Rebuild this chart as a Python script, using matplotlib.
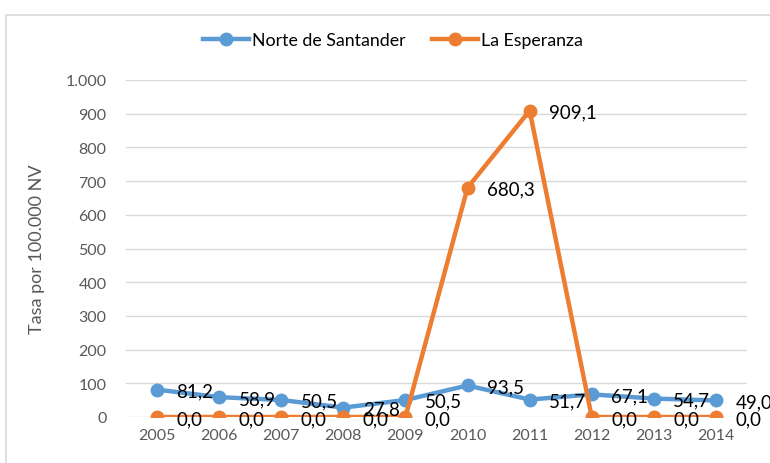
import matplotlib.pyplot as plt
from matplotlib.patches import Rectangle

plt.rcParams['font.family'] = ['Lato', 'DejaVu Sans']

years = ['2005', '2006', '2007', '2008', '2009', '2010', '2011', '2012', '2013', '2014']
norte = [81.2, 58.9, 50.5, 27.8, 50.5, 93.5, 51.7, 67.1, 54.7, 49.0]
esperanza = [0.0, 0.0, 0.0, 0.0, 0.0, 680.3, 909.1, 0.0, 0.0, 0.0]

blue = '#5B9BD5'
orange = '#ED7D31'

fig = plt.figure(figsize=(7.7, 4.64), dpi=100)
fig.patches.append(Rectangle((6 / 770, -0.1), 1.2, 1 - 16 / 464 + 0.1,
                             transform=fig.transFigure, fill=False,
                             edgecolor='#D9D9D9', linewidth=1.2))
ax = fig.add_axes([126 / 770, 1 - 418 / 464, 621 / 770, 337 / 464])

x = range(len(years))
ax.plot(x, norte, color=blue, lw=3.2, marker='o', ms=9, label='Norte de Santander', zorder=3)
ax.plot(x, esperanza, color=orange, lw=3.2, marker='o', ms=9, label='La Esperanza', zorder=3)

# etiquetas de datos a la derecha de cada punto
for serie in (norte, esperanza):
    for i, v in enumerate(serie):
        ax.annotate(f'{v:.1f}'.replace('.', ','), (i, v), xytext=(14, -1), textcoords='offset points',
                    va='center', ha='left', fontsize=13.5, color='black',
                    annotation_clip=False, zorder=4)

ax.set_xlim(-0.5, 9.5)
ax.set_ylim(0, 1000)
ax.set_yticks(range(0, 1001, 100))
ax.set_yticklabels([f'{t:,}'.replace(',', '.') for t in range(0, 1001, 100)])
ax.set_xticks(list(x))
ax.set_xticklabels(years)
ax.tick_params(axis='both', length=0, labelsize=11.5, colors='#595959')
ax.tick_params(axis='y', pad=14)
ax.tick_params(axis='x', pad=8)
ax.grid(axis='y', color='#D9D9D9', lw=1)
ax.set_axisbelow(True)
for s in ax.spines.values():
    s.set_visible(False)
ax.set_ylabel('Tasa por 100.000 NV', fontsize=13, color='#595959')
ax.yaxis.set_label_coords(-(126 - 45) / 621, 0.5)

fig.legend(loc='center', bbox_to_anchor=(393 / 770, 1 - 41 / 464), ncol=2, frameon=False,
           fontsize=12.8, handlelength=2.6, columnspacing=1.5, handletextpad=0.15)

fig.savefig('out.png', dpi=100)
